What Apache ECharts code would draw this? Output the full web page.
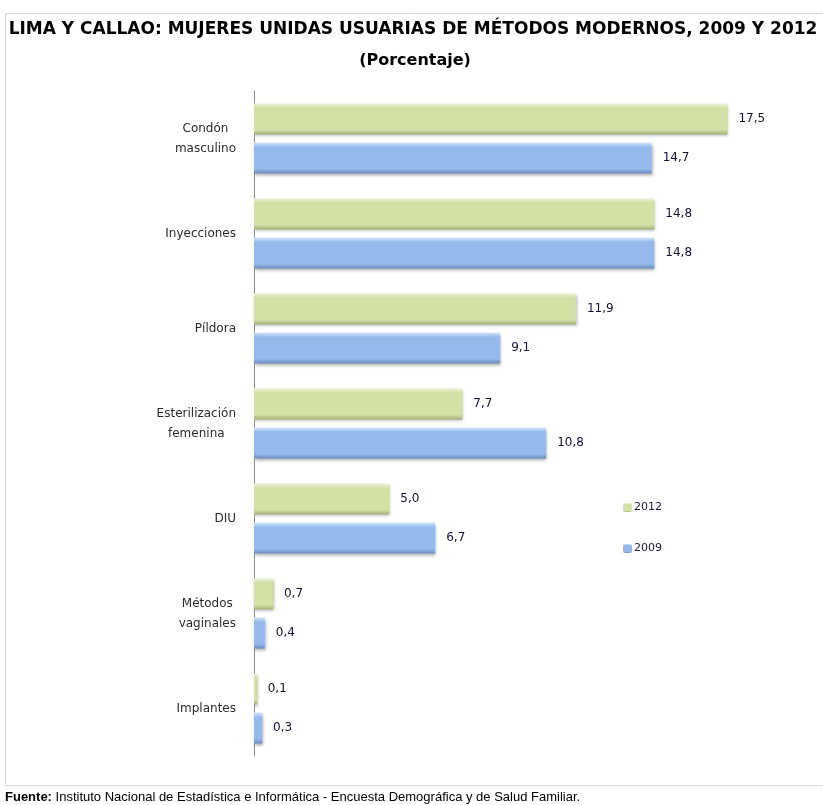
<!DOCTYPE html>
<html>
<head>
<meta charset="utf-8">
<script src="https://cdn.jsdelivr.net/npm/echarts@6/dist/echarts.min.js"></script>
<style>
  html, body { margin: 0; padding: 0; background: #fff; }
  #main { width: 823px; height: 805px; }
</style>
</head>
<body>
<div id="main"></div>
<script>
// datos del grafico
var categorias = ['Condón\nmasculino', 'Inyecciones', 'Píldora', 'Esterilización\nfemenina', 'DIU', 'Métodos\nvaginales', 'Implantes'];
var valores2012 = [17.5, 14.8, 11.9, 7.7, 5.0, 0.7, 0.1];
var valores2009 = [14.7, 14.8, 9.1, 10.8, 6.7, 0.4, 0.3];
var nombresSeries = ['2012', '2009'];

var chart = echarts.init(document.getElementById('main'));

// degradado tipo "bisel" de Excel
function bisel(claro, medio, oscuro) {
  return new echarts.graphic.LinearGradient(0, 0, 0, 1, [
    { offset: 0, color: claro },
    { offset: 0.15, color: medio },
    { offset: 0.85, color: medio },
    { offset: 1, color: oscuro }
  ]);
}
var verde = bisel('#eaf1d4', '#d3e0a6', '#a3b277');
var azul = bisel('#d3e6fb', '#95b9eb', '#6a8bbd');

function etiqueta(p) {
  return p.value.toFixed(1).replace('.', ',');
}

var estiloBarra = {
  shadowColor: 'rgba(0,0,0,0.3)',
  shadowBlur: 3,
  shadowOffsetX: 1,
  shadowOffsetY: 2
};

var option = {
  backgroundColor: '#fff',
  animation: false,
  textStyle: { fontFamily: 'DejaVu Sans' },
  title: [{
    text: 'LIMA Y CALLAO: MUJERES UNIDAS USUARIAS DE MÉTODOS MODERNOS, 2009 Y 2012',
    left: 413, top: 21, textAlign: 'center', padding: 0,
    textStyle: { fontFamily: 'DejaVu Sans', fontSize: 17, fontWeight: 'bold', color: '#000' }
  }, {
    text: '(Porcentaje)',
    left: 415, top: 53, textAlign: 'center', padding: 0,
    textStyle: { fontFamily: 'DejaVu Sans', fontSize: 16, fontWeight: 'bold', color: '#000' }
  }, {
    text: '{b|Fuente:} Instituto Nacional de Estadística e Informática - Encuesta Demográfica y de Salud Familiar.',
    left: 5, top: 791, padding: 0,
    textStyle: {
      fontFamily: 'Liberation Sans', fontSize: 13, color: '#000', fontWeight: 'normal',
      rich: { b: { fontFamily: 'Liberation Sans', fontSize: 13, fontWeight: 'bold', color: '#000' } }
    }
  }],
  graphic: [{
    type: 'rect', silent: true, z: -1,
    shape: { x: 5.5, y: 13.5, width: 830, height: 772 },
    style: { fill: 'none', stroke: '#d9d9d9', lineWidth: 1 }
  }],
  legend: {
    orient: 'vertical',
    left: 618, top: 497,
    itemWidth: 9, itemHeight: 9, itemGap: 30,
    data: nombresSeries,
    textStyle: { fontFamily: 'DejaVu Sans', fontSize: 11, color: '#1a1a3a', padding: [0, 0, 0, -3] }
  },
  grid: { left: 254, top: 91, width: 541, height: 665, containLabel: false },
  xAxis: {
    type: 'value', min: 0, max: 20, show: false
  },
  yAxis: {
    type: 'category',
    inverse: true,
    data: categorias,
    axisLine: { show: true, lineStyle: { color: '#8c8c8c', width: 1 } },
    axisTick: { show: false },
    splitLine: { show: false },
    axisLabel: {
      margin: 18,
      align: 'right',
      fontSize: 12,
      color: '#2b2b2b',
      lineHeight: 20,
      formatter: function (v) {
        return v.split('\n').map(function (l) { return '{c|' + l + '}'; }).join('\n');
      },
      rich: { c: { align: 'center', fontSize: 12, color: '#2b2b2b', lineHeight: 20, fontFamily: 'DejaVu Sans' } }
    }
  },
  series: [{
    name: nombresSeries[0],
    type: 'bar',
    data: valores2012,
    barWidth: 31,
    barGap: '26%',
    itemStyle: Object.assign({ color: verde }, estiloBarra),
    label: {
      show: true, position: 'right', distance: 11,
      formatter: etiqueta, fontSize: 12, color: '#111133', fontFamily: 'DejaVu Sans'
    }
  }, {
    name: nombresSeries[1],
    type: 'bar',
    data: valores2009,
    barWidth: 31,
    barGap: '26%',
    itemStyle: Object.assign({ color: azul }, estiloBarra),
    label: {
      show: true, position: 'right', distance: 11,
      formatter: etiqueta, fontSize: 12, color: '#111133', fontFamily: 'DejaVu Sans'
    }
  }]
};

chart.setOption(option);
</script>
</body>
</html>
